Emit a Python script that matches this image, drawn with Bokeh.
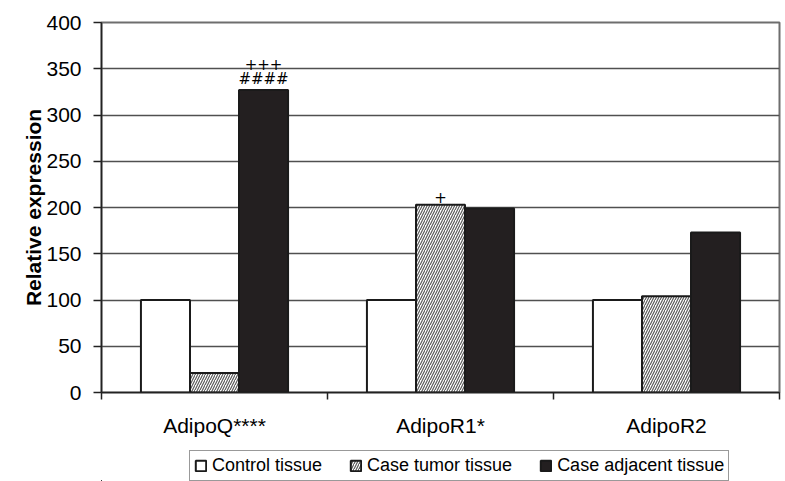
from bokeh.plotting import figure
from bokeh.layouts import column
from bokeh.models import (Range1d, FixedTicker, LinearAxis,
                          Legend, LegendItem, ColumnDataSource)
from bokeh.core.properties import value
from bokeh.embed import file_html
from bokeh.resources import INLINE

genes = ["AdipoQ****", "AdipoR1*", "AdipoR2"]
series = ["Control tissue", "Case tumor tissue", "Case adjacent tissue"]
control = [100, 100, 100]
tumor = [21, 203, 104]
adjacent = [327, 199, 173]
y_ticks = [0, 50, 100, 150, 200, 250, 300, 350, 400]

# significance marks: (gene index, series index, text, stacking level)
ann_gene = [0, 0, 1]
ann_series = [2, 2, 1]
ann_text = ["####", "+++", "+"]
ann_level = [0, 1, 0]

FONT = "Liberation Sans"
BAR_W = 0.217
offsets = [-BAR_W, 0.0, BAR_W]
all_vals = [control, tumor, adjacent]

W = 785
MAIN_H = 439
LEG_H = 42

p = figure(width=W, height=MAIN_H, output_backend="svg", toolbar_location=None,
           x_range=Range1d(0, len(genes)), y_range=Range1d(0, 400),
           x_axis_type=None, min_border_left=101, min_border_right=6,
           min_border_top=22, min_border_bottom=MAIN_H - 392)
p.background_fill_color = "white"
p.border_fill_color = "white"
p.outline_line_color = "#6e6e6e"
p.outline_line_width = 2

# y axis
ya = p.yaxis[0]
ya.ticker = FixedTicker(ticks=y_ticks)
ya.axis_line_color = "#222222"
ya.axis_line_width = 1.5
ya.major_tick_line_color = "#222222"
ya.major_tick_line_width = 1.5
ya.major_tick_out = 8
ya.major_tick_in = 0
ya.minor_tick_line_color = None
ya.major_label_text_font = FONT
ya.major_label_text_font_size = "21px"
ya.major_label_text_color = "black"
ya.major_label_standoff = 12
ya.axis_label = "Relative expression"
ya.axis_label_text_font = FONT
ya.axis_label_text_font_style = "bold"
ya.axis_label_text_font_size = "21px"
ya.axis_label_text_color = "black"
ya.axis_label_standoff = -2

p.xgrid.visible = False
p.ygrid.grid_line_color = "#505050"
p.ygrid.grid_line_width = 1.5
p.ygrid.ticker = FixedTicker(ticks=y_ticks)

# x axis: tick marks at category boundaries, labels at centres
bounds = list(range(len(genes) + 1))
xa_ticks = LinearAxis(ticker=FixedTicker(ticks=bounds),
                      major_label_overrides={b: "" for b in bounds})
xa_ticks.axis_line_color = "#222222"
xa_ticks.axis_line_width = 1.5
xa_ticks.major_tick_line_color = "#222222"
xa_ticks.major_tick_line_width = 1.5
xa_ticks.major_tick_out = 7
xa_ticks.major_tick_in = 0
xa_ticks.minor_tick_line_color = None
xa_ticks.major_label_standoff = 0
p.add_layout(xa_ticks, "below")

centers = [i + 0.5 for i in range(len(genes))]
xa_lab = LinearAxis(ticker=FixedTicker(ticks=centers),
                    major_label_overrides={c: g for c, g in zip(centers, genes)})
xa_lab.axis_line_color = None
xa_lab.major_tick_line_color = None
xa_lab.minor_tick_line_color = None
xa_lab.major_label_text_font = FONT
xa_lab.major_label_text_font_size = "21px"
xa_lab.major_label_text_color = "black"
xa_lab.major_label_standoff = 8
p.add_layout(xa_lab, "below")

# bars
styles = [
    dict(fill_color="white"),
    dict(fill_color="white", hatch_pattern="/", hatch_color="#5a5a5a",
         hatch_scale=5, hatch_weight=1.2),
    dict(fill_color="#231f20"),
]
sources = []
for k, vals in enumerate(all_vals):
    src = ColumnDataSource(dict(x=[c + offsets[k] for c in centers], top=vals))
    sources.append(src)
    p.vbar(x="x", top="top", width=BAR_W, bottom=0, source=src,
           line_color="#1a1a1a", line_width=2, **styles[k])

# annotations
ax = [centers[g] + offsets[s] for g, s in zip(ann_gene, ann_series)]
ay = [all_vals[s][g] for g, s in zip(ann_gene, ann_series)]
ay_off = [-2 - 18 * lv for lv in ann_level]
asrc = ColumnDataSource(dict(x=ax, y=ay, t=ann_text, yo=ay_off))
p.text(x="x", y="y", text="t", y_offset="yo", source=asrc,
       text_font=value("DejaVu Sans"), text_font_size="15px",
       text_align="center", text_baseline="bottom", text_color="black")

# legend strip (same bar renderers, viewed off-range so only the legend shows)
q = figure(width=W, height=LEG_H, output_backend="svg", toolbar_location=None,
           x_range=Range1d(100, 101), y_range=Range1d(1000, 1001),
           x_axis_type=None, y_axis_type=None,
           min_border_left=0, min_border_right=0, min_border_top=0, min_border_bottom=0)
q.outline_line_color = None
q.xgrid.visible = False
q.ygrid.visible = False
q.background_fill_color = "white"
q.border_fill_color = "white"
leg_renderers = []
for k in range(len(series)):
    leg_renderers.append(q.vbar(x="x", top="top", width=BAR_W, bottom=0, source=sources[k],
                                line_color="#1a1a1a", line_width=2, **styles[k]))

legend = Legend(items=[LegendItem(label=s, renderers=[r], index=0)
                       for s, r in zip(series, leg_renderers)],
                orientation="horizontal", location=(88, 0))
legend.label_text_font = FONT
legend.label_text_font_size = "18px"
legend.label_text_color = "black"
legend.glyph_width = 13
legend.glyph_height = 13
legend.label_standoff = 5
legend.spacing = 27
legend.padding = 4
legend.margin = 0
legend.border_line_color = "#333333"
legend.border_line_width = 1.5
legend.background_fill_color = "white"
legend.background_fill_alpha = 1
q.add_layout(legend)

layout = column(p, q, spacing=0)
open("out.html", "w").write(file_html(layout, INLINE))
